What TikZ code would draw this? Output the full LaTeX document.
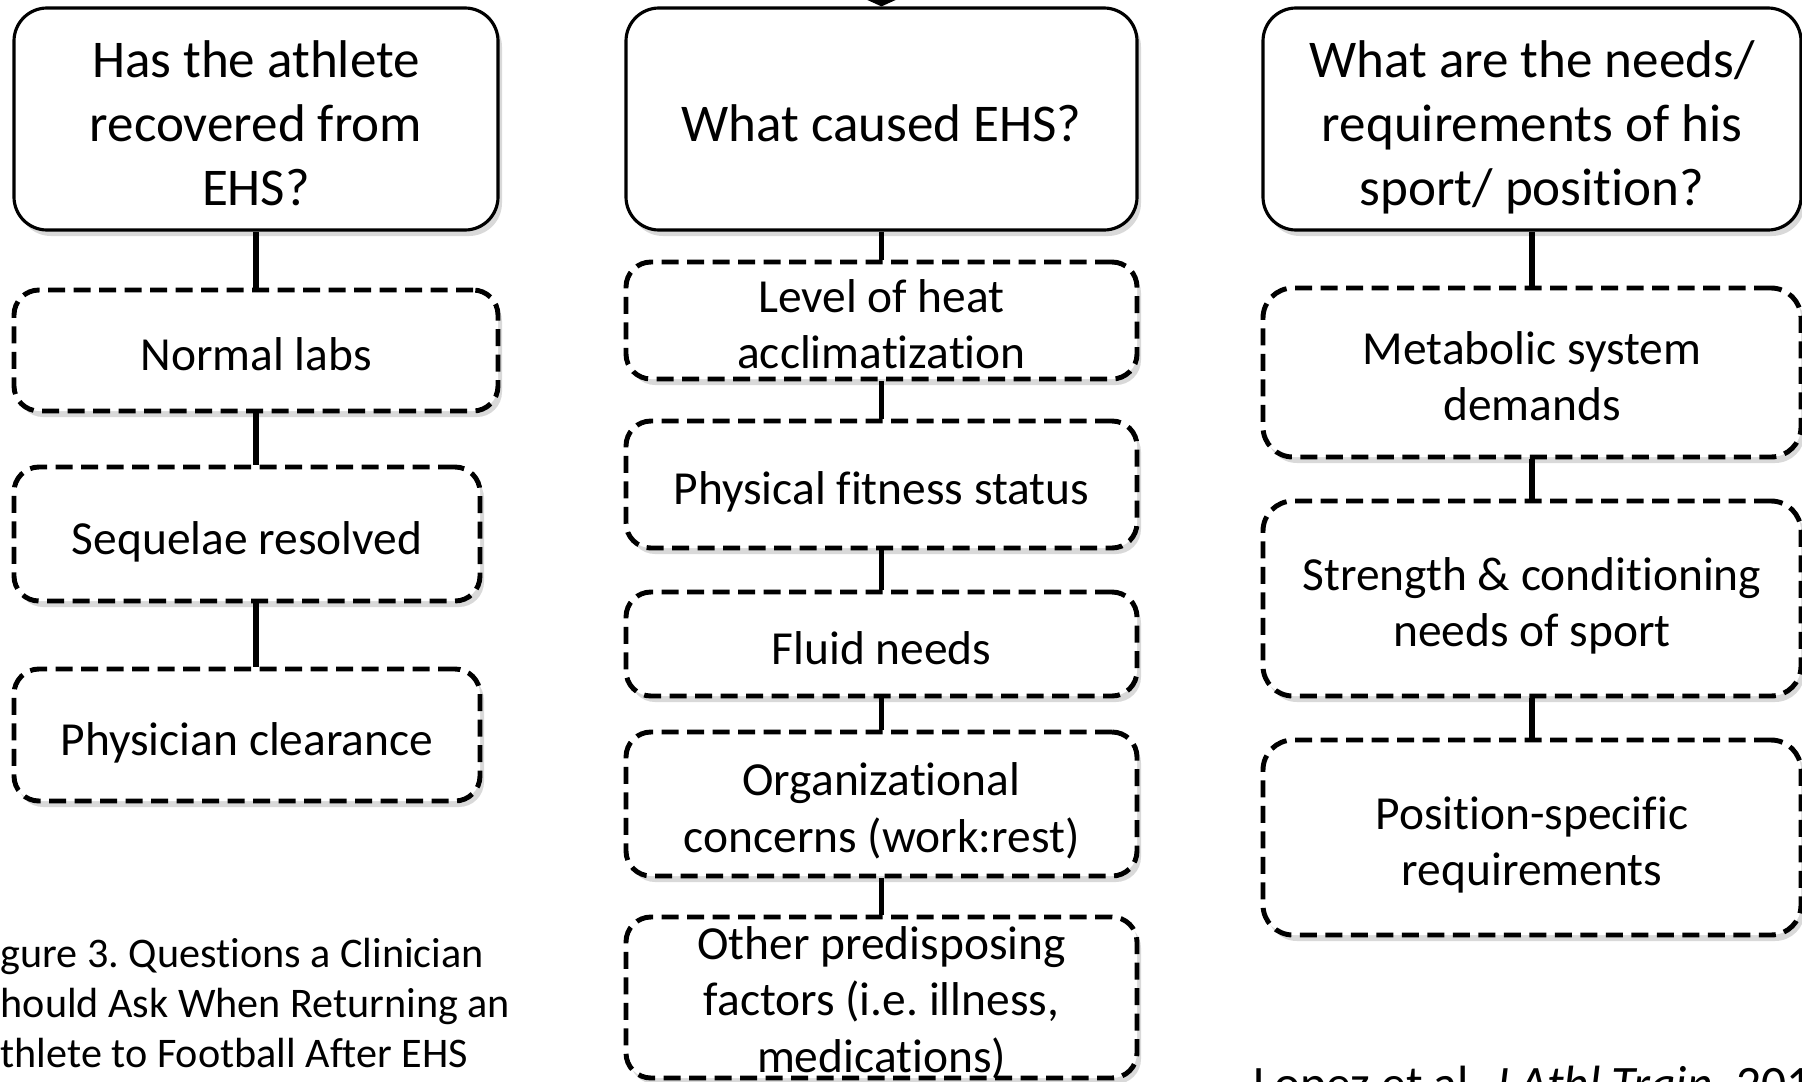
\documentclass[tikz,border=0pt]{standalone}
\usepackage{fontspec}
\setmainfont{Carlito}[Ligatures=NoCommon]
\usetikzlibrary{shadows,arrows.meta}
\frenchspacing

% lines of a box, set a little low as in the original
\newcommand{\boxtext}[2][2.5pt]{\raisebox{-#1}[\height][\depth]{\begin{tabular}{@{}c@{}}#2\end{tabular}}}

\begin{document}
\begin{tikzpicture}[x=0.1mm, y=-0.1mm,
    question/.style={draw, line width=0.9pt, rounded corners=3.3mm, fill=white,
        drop shadow={opacity=0.3, shadow xshift=0.4mm, shadow yshift=-0.6mm},
        inner sep=0pt, font=\fontsize{15.1}{18.2}\selectfont},
    answer/.style={draw, line width=1.4pt, dash pattern=on 1.7mm off 0.85mm,
        rounded corners=2.5mm, fill=white,
        drop shadow={opacity=0.3, shadow xshift=0.4mm, shadow yshift=-0.6mm},
        inner sep=0pt, font=\fontsize{13.5}{16.1}\selectfont},
    link/.style={line width=1.5pt},
    caption/.style={inner sep=0pt, font=\fontsize{12}{14}\selectfont}]
    \useasboundingbox (0,0) rectangle (1802,1081);
    \clip (0,0) rectangle (1802,1081);

    % left column
    \node[question, minimum width=48.4mm, minimum height=22.2mm] (recovered) at (256,119)
        {\boxtext[2.7pt]{Has the athlete\\recovered from\\EHS?}};
    \node[answer, minimum width=48.4mm, minimum height=12.1mm] (labs) at (256,350.5) {\boxtext{Normal labs}};
    \node[answer, minimum width=46.6mm, minimum height=13.4mm] (sequelae) at (247,534) {\boxtext{Sequelae resolved}};
    \node[answer, minimum width=46.6mm, minimum height=13.2mm] (clearance) at (247,735) {\boxtext{Physician clearance}};
    \draw[link] (recovered.south) -- (labs.north);
    \draw[link] (labs.south) -- (labs.south |- sequelae.north);
    \draw[link] (labs.south |- sequelae.south) -- (labs.south |- clearance.north);

    % middle column
    \node[question, minimum width=51.1mm, minimum height=22.2mm] (cause) at (881.5,119) {\boxtext[2.7pt]{What caused EHS?}};
    \node[answer, minimum width=51.1mm, minimum height=11.7mm] (acclim) at (881.5,320.5)
        {\boxtext{Level of heat\\acclimatization}};
    \node[answer, minimum width=51.1mm, minimum height=12.7mm] (fitness) at (881.5,484.5) {\boxtext{Physical fitness status}};
    \node[answer, minimum width=51.1mm, minimum height=10.4mm] (fluid) at (881.5,644) {\boxtext{Fluid needs}};
    \node[answer, minimum width=51.1mm, minimum height=14.4mm] (organize) at (881.5,804)
        {\boxtext{Organizational\\concerns (work:rest)}};
    \node[answer, inner ysep=-0.6mm, minimum width=51.1mm, minimum height=16.1mm] (other) at (881.5,997.5)
        {\boxtext[2pt]{Other predisposing\\factors (i.e. illness,\\medications)}};
    \coordinate (feed) at (881.5,-80);
    \draw[link, -{Triangle[width=4.8mm, length=1.1mm]}] (feed) -- (cause.north);
    \draw[link] (cause.south) -- (acclim.north);
    \draw[link] (acclim.south) -- (fitness.north);
    \draw[link] (fitness.south) -- (fluid.north);
    \draw[link] (fluid.south) -- (organize.north);
    \draw[link] (organize.south) -- (other.north);

    % right column
    \node[question, minimum width=53.8mm, minimum height=22.2mm] (needs) at (1532,119)
        {\boxtext[2.7pt]{What are the needs/\\requirements of his\\sport/ position?}};
    \node[answer, rounded corners=3mm, minimum width=53.8mm, minimum height=16.9mm] (metabolic) at (1532,372.5)
        {\boxtext{Metabolic system\\demands}};
    \node[answer, rounded corners=3mm, minimum width=53.8mm, minimum height=19.5mm] (strength) at (1532,598.5)
        {\boxtext{Strength \& conditioning\\needs of sport}};
    \node[answer, rounded corners=3mm, minimum width=53.8mm, minimum height=19.5mm] (position) at (1532,837.5)
        {\boxtext{Position-specific\\requirements}};
    \draw[link] (needs.south) -- (needs.south |- metabolic.north);
    \draw[link] (needs.south |- metabolic.south) -- (needs.south |- strength.north);
    \draw[link] (needs.south |- strength.south) -- (needs.south |- position.north);

    % caption and source
    \node[caption, anchor=base west] (fig1) at (0,967) {gure 3. Questions a Clinician};
    \node[caption, anchor=base west] (fig2) at (0,1017) {hould Ask When Returning an};
    \node[caption, anchor=base west] (fig3) at (0,1067) {thlete to Football After EHS};
    \node[inner sep=0pt, anchor=base west, font=\fontsize{14.1}{17}\selectfont] (source) at (1253,1100)
        {Lopez et al. \textit{J Athl Train}. 2011};
\end{tikzpicture}
\end{document}
